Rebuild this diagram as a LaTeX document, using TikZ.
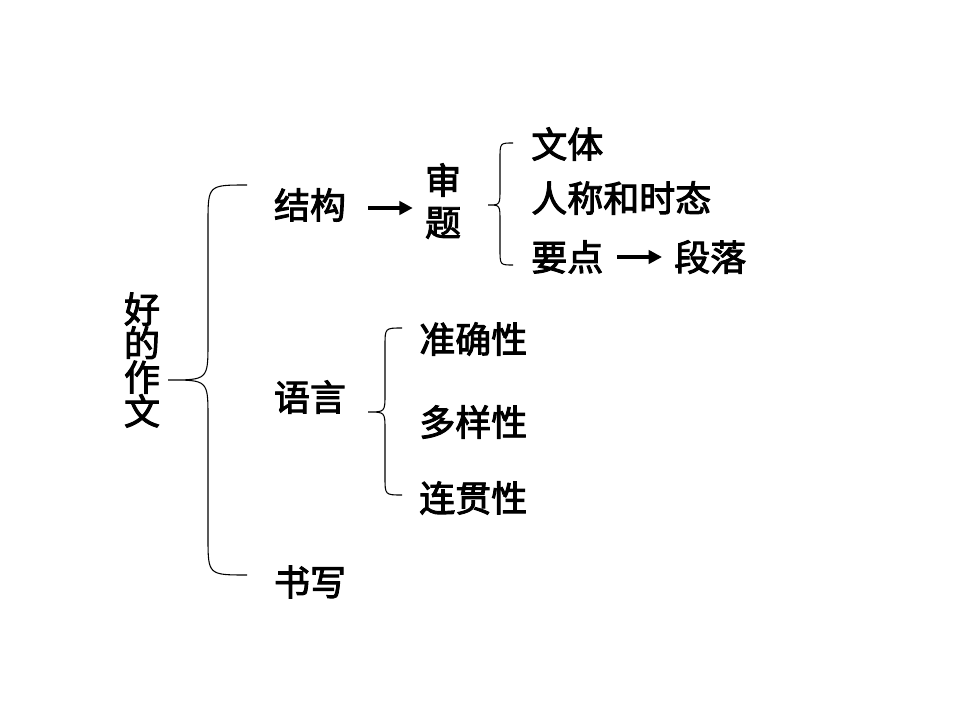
\documentclass[tikz,border=0pt]{standalone}
\usepackage{fontspec}
\newfontfamily\cjk{Noto Sans CJK SC}
\usetikzlibrary{arrows.meta, calc, positioning}

\tikzset{
  wenzi/.style={font=\cjk\fontsize{27}{32}\selectfont, inner sep=0pt,
    execute at begin node={\special{pdf:literal direct 2 Tr 0.7 w}}},
  shuxiang/.style={align=center, font=\cjk\fontsize{27}{#1}\selectfont,
    execute at begin node={\lineskiplimit=-20pt\special{pdf:literal direct 2 Tr 0.7 w}}},
  jiantou/.style={line width=3pt, -{Triangle[length=10pt, width=10pt]}},
  kuohao/.style={line width=0.8pt},
}

\providecommand{\Kuohao}[7]{%
  % #1 end x, #2 line x, #3 tip x, #4 top y, #5 tip y, #6 bottom y, #7 radius
  \draw[kuohao] (#1,#4) .. controls (#2,#4) and (#2,#4) .. (#2,#4+#7) -- (#2,#5-#7)
    .. controls (#2,#5) .. (#3,#5) .. controls (#2,#5) .. (#2,#5+#7)
    -- (#2,#6-#7) .. controls (#2,#6) and (#2,#6) .. (#1,#6);
}

\begin{document}
\begin{tikzpicture}[x=0.75pt, y=-0.75pt]
	\useasboundingbox (0,0) rectangle (960,720);

	% left part
	\node[wenzi, shuxiang=25.5pt] (zuowen) at (142,360) {好\\的\\作\\文};
	\node[wenzi] (jiegou) at (310,205) {结构};
	\node[wenzi] (yuyan) at (310,397) {语言};
	\node[wenzi] (shuxie) at (310,582) {书写};
	\Kuohao{247}{208}{168}{185}{380}{575}{38}

	% structure
	\node[wenzi, shuxiang=31.5pt] (shenti) at (443,201) {审\\题};
	\draw[jiantou, shorten <=16.5pt, shorten >=9pt] ($(jiegou.east)+(0,3)$) -- ($(jiegou.east -| shenti.west)+(0,3)$);
	\Kuohao{513}{500}{488}{143}{205}{265}{16}
	\node[wenzi, anchor=west] (wenti) at (531,144) {文体};
	\node[wenzi, anchor=west] (renchen) at (531,198) {人称和时态};
	\node[wenzi, anchor=west] (yaodian) at (531,257) {要点};
	\node[wenzi, anchor=west] (duanluo) at (674,257) {段落};
	\draw[jiantou, shorten <=10pt, shorten >=9pt] (yaodian) -- (duanluo);

	% language
	\Kuohao{402}{385}{368}{328}{412}{495}{18}
	\node[wenzi, anchor=west] (zhunque) at (419,339) {准确性};
	\node[wenzi, anchor=west] (duoyang) at (419,422) {多样性};
	\node[wenzi, anchor=west] (lianguan) at (419,498) {连贯性};

\end{tikzpicture}
\end{document}
